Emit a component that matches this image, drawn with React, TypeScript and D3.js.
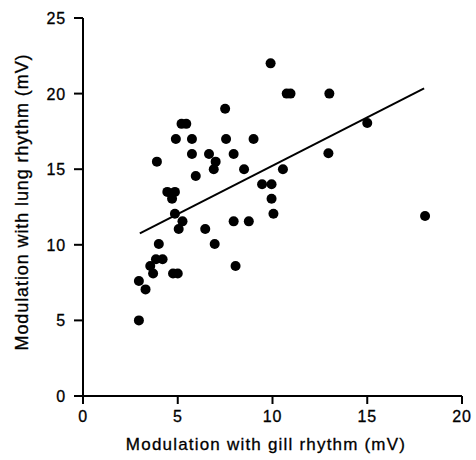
import React from "react";
import * as d3 from "d3";

const gillX = [9.9, 7.5, 5.2, 5.45, 4.9, 5.75, 7.55, 9.0, 5.75, 6.65, 7.95, 3.9, 7.0, 6.9, 8.5, 5.95, 9.45, 9.95, 10.55, 4.45, 4.85, 4.7, 9.95, 10.05, 4.85, 5.25, 5.05, 6.45, 7.95, 8.75, 4.0, 6.95, 3.85, 4.2, 3.55, 3.7, 4.75, 5.0, 8.05, 2.95, 3.3, 2.95, 10.75, 10.95, 13.0, 15.0, 12.95, 18.05];
const lungY = [22, 19, 18, 18, 17, 17, 17, 17, 16, 16, 16, 15.5, 15.5, 15, 15, 14.55, 14, 14, 15, 13.5, 13.5, 13.05, 13.05, 12.05, 12.05, 11.55, 11.05, 11.05, 11.55, 11.55, 10.05, 10.05, 9.05, 9.05, 8.6, 8.1, 8.1, 8.1, 8.6, 7.6, 7.05, 5.0, 20, 20, 20, 18.05, 16.05, 11.9];
const fitX = [3.0, 18.0];
const fitY = [10.75, 20.35];
const xTicks = [0, 5, 10, 15, 20];
const yTicks = [0, 5, 10, 15, 20, 25];

export default function App() {
  const x = d3.scaleLinear().domain([0, 20]).range([83, 462]);
  const y = d3.scaleLinear().domain([0, 25]).range([396, 18]);
  const font = "'Liberation Sans', Arial, sans-serif";
  const line = d3.line<number>().x((d) => x(fitX[d])).y((d) => y(fitY[d]));
  return (
    <svg width={476} height={460} style={{ position: "absolute", left: 0, top: 0 }}>
      <rect width={476} height={460} fill="#fff" />
      <g stroke="#000" strokeWidth={2} fill="none">
        <line x1={x(0)} x2={x(20)} y1={y(0)} y2={y(0)} />
        <line x1={x(0)} x2={x(0)} y1={y(0)} y2={y(25)} />
        {xTicks.map((t) => (
          <line key={"xt" + t} x1={x(t)} x2={x(t)} y1={y(0)} y2={y(0) + 8} />
        ))}
        {yTicks.map((t) => (
          <line key={"yt" + t} x1={x(0) - 9} x2={x(0)} y1={y(t)} y2={y(t)} />
        ))}
        <path d={line([0, 1]) || ""} strokeWidth={2} />
      </g>
      <g fontFamily={font} fontSize={16} fill="#000" stroke="#000" strokeWidth={0.3}>
        {xTicks.map((t) => (
          <text key={"xl" + t} x={x(t)} y={422} textAnchor="middle" letterSpacing={0.8}>{t}</text>
        ))}
        {yTicks.map((t) => (
          <text key={"yl" + t} x={66} y={y(t) + 6} textAnchor="end" letterSpacing={0.8}>{t}</text>
        ))}
        <text x={266} y={450} textAnchor="middle" fontSize={17} letterSpacing={1.2}>Modulation with gill rhythm (mV)</text>
        <text transform="translate(28,202) rotate(-90)" textAnchor="middle" fontSize={18} letterSpacing={0.9}>Modulation with lung rhythm (mV)</text>
      </g>
      <g fill="#000">
        {gillX.map((v, i) => (
          <circle key={i} cx={x(v)} cy={y(lungY[i])} r={5} />
        ))}
      </g>
    </svg>
  );
}
